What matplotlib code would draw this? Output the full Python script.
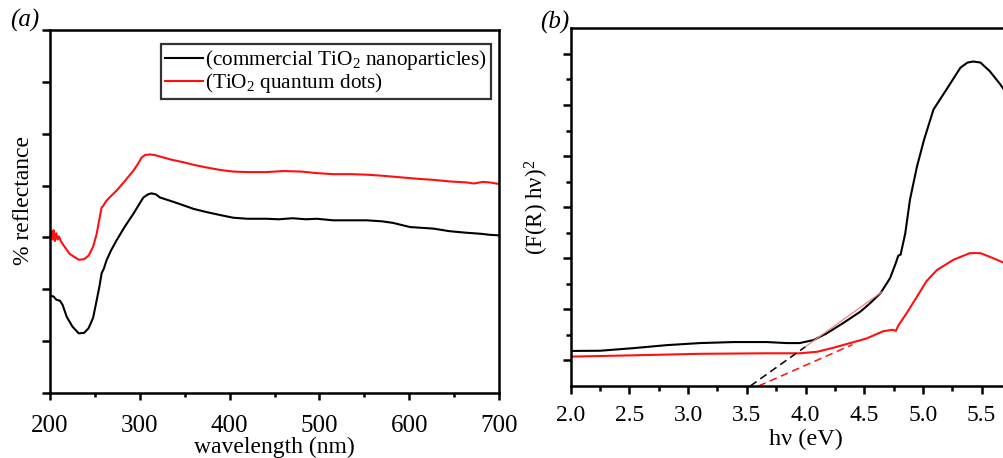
import matplotlib
matplotlib.use("Agg")
import matplotlib.pyplot as plt
from matplotlib.ticker import MultipleLocator, NullFormatter, FixedLocator, FormatStrFormatter

plt.rcParams['font.family'] = ['Liberation Serif', 'DejaVu Serif']
plt.rcParams['mathtext.fontset'] = 'custom'
plt.rcParams['mathtext.rm'] = 'Liberation Serif'
plt.rcParams['mathtext.it'] = 'Liberation Serif:italic'

# ---- panel (a): reflectance ----
wl_black = [200, 204, 207, 211, 214, 218.6, 225, 232, 238, 243, 248, 252, 255, 257.5, 260, 263, 268, 274, 283, 293, 300, 304,
            309, 313, 318, 322.5, 335, 348.5, 360, 374, 390, 404, 420, 441, 455, 470, 485, 497, 515.5, 535, 552.6, 570, 582,
            601, 627, 645, 664, 680, 690, 700]
r_black = [1.88, 1.86, 1.80, 1.78, 1.70, 1.47, 1.28, 1.15, 1.16, 1.25, 1.45, 1.79, 2.05, 2.31, 2.40, 2.56, 2.75, 2.94, 3.20, 3.46,
           3.66, 3.77, 3.83, 3.85, 3.83, 3.77, 3.70, 3.62, 3.55, 3.49, 3.43, 3.38, 3.36, 3.36, 3.35, 3.37, 3.35, 3.36, 3.33, 3.33,
           3.33, 3.31, 3.28, 3.20, 3.17, 3.12, 3.09, 3.07, 3.05, 3.04]
wl_red = [200, 201.5, 203, 204, 205.5, 207, 208.5, 210, 212, 215, 222, 232, 238, 243, 248, 252, 255, 257.5, 259, 261, 263, 268,
          274, 283, 293, 298, 302, 306, 311, 316, 322.5, 335, 348.5, 360, 374, 390, 404, 420, 441, 460, 480, 497, 515.5, 535,
          552.6, 570, 590, 610, 627, 645, 664, 672, 682, 690, 700]
r_red = [3.00, 3.12, 2.96, 3.14, 2.93, 3.08, 2.96, 3.02, 2.93, 2.85, 2.68, 2.57, 2.58, 2.65, 2.82, 3.07, 3.35, 3.58, 3.60, 3.66,
         3.71, 3.80, 3.90, 4.08, 4.29, 4.42, 4.54, 4.59, 4.60, 4.59, 4.56, 4.50, 4.45, 4.40, 4.35, 4.30, 4.27, 4.26, 4.26, 4.28,
         4.27, 4.24, 4.22, 4.22, 4.21, 4.19, 4.16, 4.13, 4.11, 4.08, 4.06, 4.04, 4.07, 4.06, 4.03]
xticks_a = [200, 300, 400, 500, 600, 700]
legend_labels = ['(commercial TiO$_2$ nanoparticles)', '(TiO$_2$ quantum dots)']

# ---- panel (b): Tauc plot ----
e_black = [2.0, 2.25, 2.53, 2.82, 3.10, 3.39, 3.67, 3.84, 3.95, 4.07, 4.18, 4.32, 4.47, 4.55, 4.64, 4.72, 4.77, 4.79, 4.81, 4.85,
           4.89, 4.95, 5.01, 5.09, 5.20, 5.32, 5.38, 5.43, 5.49, 5.57, 5.66, 5.75]
f_black = [0.686, 0.69, 0.74, 0.80, 0.84, 0.86, 0.86, 0.84, 0.84, 0.90, 1.03, 1.23, 1.46, 1.62, 1.82, 2.11, 2.41, 2.55, 2.57,
           2.99, 3.65, 4.30, 4.82, 5.41, 5.80, 6.23, 6.33, 6.35, 6.33, 6.16, 5.90, 5.60]
e_red = [2.0, 2.53, 3.10, 3.67, 3.95, 4.10, 4.24, 4.38, 4.52, 4.66, 4.74, 4.77, 4.79, 4.86, 4.95, 5.03, 5.12, 5.26, 5.40, 5.49,
         5.60, 5.69, 5.75]
f_red = [0.575, 0.60, 0.63, 0.64, 0.64, 0.67, 0.75, 0.84, 0.93, 1.07, 1.10, 1.08, 1.18, 1.42, 1.75, 2.05, 2.27, 2.47, 2.60, 2.60,
         2.50, 2.41, 2.32]
tangent_black_x = [3.53, 4.00]
tangent_black_y = [0.0, 0.77]
tangent_black_ext_x = [4.00, 4.65]
tangent_black_ext_y = [0.77, 1.84]
tangent_red_x = [3.60, 4.40]
tangent_red_y = [0.0, 0.81]
xticks_b = [2.0, 2.5, 3.0, 3.5, 4.0, 4.5, 5.0, 5.5]

fig = plt.figure(figsize=(10.04, 4.58), dpi=100)

axa = fig.add_axes([50/1004, 1-393/458, 449/1004, 363/458])
axa.plot(wl_black, r_black, color='black', lw=1.5, label=legend_labels[0])
axa.plot(wl_red, r_red, color='#ff1010', lw=1.5, label=legend_labels[1])
axa.set_xlim(200, 700)
axa.set_ylim(0, 7)
axa.xaxis.set_major_locator(FixedLocator(xticks_a))
axa.xaxis.set_minor_locator(MultipleLocator(50))
axa.yaxis.set_major_locator(MultipleLocator(1))
axa.yaxis.set_major_formatter(NullFormatter())
axa.tick_params(axis='both', which='both', direction='out', top=False, right=False, width=1.8, labelsize=18)
axa.tick_params(axis='y', which='major', length=6)
axa.tick_params(axis='x', which='major', length=5, pad=11)
axa.tick_params(axis='x', which='minor', length=3)
for s in axa.spines.values():
    s.set_linewidth(1.8)
axa.set_xlabel('wavelength (nm)', fontsize=17, labelpad=0)
axa.set_ylabel('% reflectance', fontsize=17, labelpad=2)
axa.yaxis.label.set_y(0.53)
leg = axa.legend(loc='upper right', bbox_to_anchor=(0.983, 0.962), fontsize=15.3, frameon=True, fancybox=False,
                 edgecolor='black', handlelength=1.8, handletextpad=0.1, borderpad=0.2, labelspacing=-0.05,
                 borderaxespad=0)
leg.get_frame().set_linewidth(1.6)
fig.text(25/1004, 1-20/458, '(a)', fontsize=18, style='italic', ha='center', va='center')

axb = fig.add_axes([570.7/1004, 1-386/458, 469.6/1004, 357.7/458])
axb.plot(e_black, f_black, color='black', lw=1.5)
axb.plot(e_red, f_red, color='#ff1010', lw=1.5)
axb.plot(tangent_black_x, tangent_black_y, color='black', lw=1.1, ls=(0, (5, 3)))
axb.plot(tangent_black_ext_x, tangent_black_ext_y, color='#f08080', lw=0.9)
axb.plot(tangent_red_x, tangent_red_y, color='#ff1010', lw=1.1, ls=(0, (5, 3)))
axb.set_xlim(2.0, 6.0)
axb.set_ylim(0, 7)
axb.xaxis.set_major_locator(FixedLocator(xticks_b))
axb.xaxis.set_major_formatter(FormatStrFormatter('%.1f'))
axb.xaxis.set_minor_locator(MultipleLocator(0.25))
axb.yaxis.set_major_locator(FixedLocator([0.5, 1.5, 2.5, 3.5, 4.5, 5.5, 6.5]))
axb.yaxis.set_minor_locator(FixedLocator([1, 2, 3, 4, 5, 6]))
axb.yaxis.set_major_formatter(NullFormatter())
axb.tick_params(axis='both', which='both', direction='out', top=False, right=False, width=1.8, labelsize=17)
axb.tick_params(axis='both', which='major', length=6)
axb.tick_params(axis='x', which='major', pad=8)
axb.tick_params(axis='both', which='minor', length=3.5)
for s in axb.spines.values():
    s.set_linewidth(1.8)
axb.set_xlabel('hν (eV)', fontsize=17.5, labelpad=2)
axb.set_ylabel('(F(R) hν)$^2$', fontsize=16.5, labelpad=5)
fig.text(555/1004, 1-22/458, '(b)', fontsize=18, style='italic', ha='center', va='center')

fig.savefig('out.png', dpi=100)
